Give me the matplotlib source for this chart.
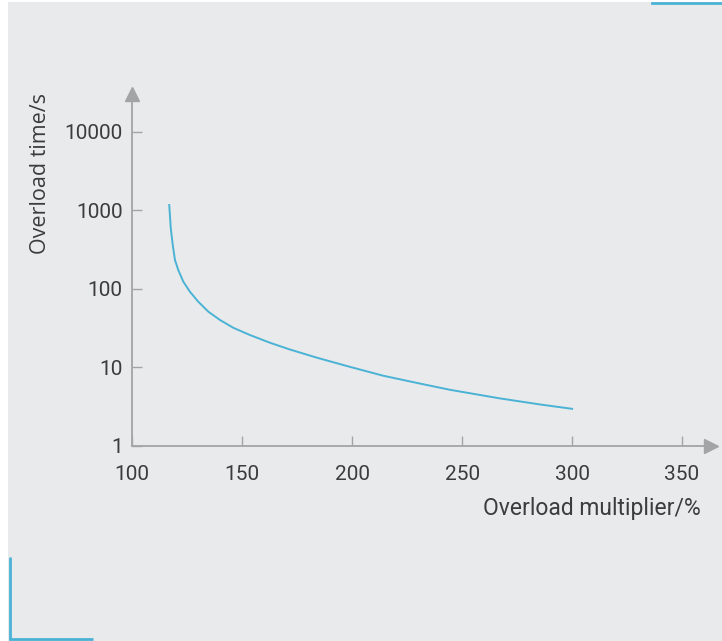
import matplotlib.pyplot as plt
from matplotlib.patches import Rectangle
from matplotlib.lines import Line2D

# curve
multiplier = [116.8, 117.5, 118.4, 119.4, 120.9, 123.2, 126.2, 130.0, 134.6, 139.9,
              145.9, 153.5, 162.6, 171.4, 184.0, 199.0, 214.0, 229.5, 244.5, 267.3,
              285.5, 300.0]
overload_time = [1165, 588, 360, 232, 173, 123, 91.6, 68.3, 50.9, 39.9,
                 31.8, 25.7, 20.5, 16.9, 13.2, 10.1, 7.8, 6.3, 5.15, 4.0,
                 3.35, 2.95]

x_ticks = [100, 150, 200, 250, 300, 350]
y_ticks = [1, 10, 100, 1000, 10000]
y_tick_labels = ['1', '10', '100', '1000', '10000']

W, H = 722, 641
bg = '#e9eaec'
blue = '#4ab3d5'
axis_col = '#a3a4a6'
text_col = '#3c3c3c'

fig = plt.figure(figsize=(W / 100, H / 100), dpi=100)
fig.patch.set_facecolor('white')

# grey panel and blue corner marks
fig.patches.append(Rectangle((8 / W, 0), 1, 1 - 2 / H, transform=fig.transFigure,
                             facecolor=bg, edgecolor='none', zorder=-10))
fig.lines.append(Line2D([652 / W, 1], [1 - 3.3 / H, 1 - 3.3 / H], transform=fig.transFigure,
                        color=blue, lw=2.0))
fig.lines.append(Line2D([9.6 / W, 9.6 / W, 92.5 / W], [1 - 557 / H, 1 - 638.8 / H, 1 - 638.8 / H],
                        transform=fig.transFigure, color=blue, lw=2.0,
                        solid_joinstyle='miter', solid_capstyle='butt'))

left, right = 132.3, 711
bottom, top = 445.7, 94
ax = fig.add_axes([left / W, 1 - bottom / H, (right - left) / W, (bottom - top) / H])
ax.set_facecolor('none')
ax.set_zorder(5)

ax.plot(multiplier, overload_time, color=blue, lw=1.4, solid_joinstyle='round')

ax.set_yscale('log')
ax.set_xlim(100, 100 + (right - left) / 2.199)
ax.set_ylim(1, 10 ** ((bottom - top) / 78.5))

for s in ['top', 'right']:
    ax.spines[s].set_visible(False)
for s in ['left', 'bottom']:
    ax.spines[s].set_color(axis_col)
    ax.spines[s].set_linewidth(1.3)

# arrow heads
ax.plot([1], [0], marker='>', ms=10, color=axis_col, transform=ax.transAxes, clip_on=False)
ax.plot([0], [1], marker='^', ms=10, color=axis_col, transform=ax.transAxes, clip_on=False)

ax.set_xticks(x_ticks)
ax.set_xticklabels([str(v) for v in x_ticks])
ax.set_yticks(y_ticks)
ax.set_yticklabels(y_tick_labels)
ax.minorticks_off()
ax.tick_params(axis='both', direction='in', length=7.5, width=1.0, color=axis_col,
               labelcolor=text_col, labelsize=15)
ax.tick_params(axis='x', pad=14)
ax.tick_params(axis='y', pad=7)
for lab in ax.get_xticklabels() + ax.get_yticklabels():
    lab.set_family('Roboto')

fig.text(41 / W, 1 - 173 / H, 'Overload time/s', rotation=90, ha='center', va='center',
         fontsize=15.5, color=text_col, family='Open Sans')
fig.text(701 / W, 1 - 509 / H, 'Overload multiplier/%', ha='right', va='center',
         fontsize=16.5, color=text_col, family='Roboto')

fig.savefig('out.png', dpi=100, facecolor=fig.get_facecolor())
